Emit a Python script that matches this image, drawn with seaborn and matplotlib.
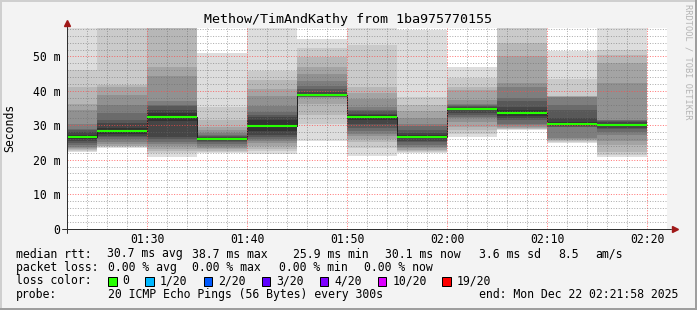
import matplotlib
matplotlib.use("Agg")
import numpy as np
import matplotlib.pyplot as plt
import seaborn as sns
from matplotlib.ticker import MultipleLocator, FixedLocator
from matplotlib.patches import Rectangle
from matplotlib.lines import Line2D

# ---------------- data ----------------
title = "Methow/TimAndKathy from 1ba975770155"
y_label = "Seconds"
watermark = "RRDTOOL / TOBI OETIKER"

interval_end = ["01:25", "01:30", "01:35", "01:40", "01:45", "01:50",
                "01:55", "02:00", "02:05", "02:10", "02:15", "02:20"]
step_minutes = 5
view_start, view_end = "01:22", "02:22"

median_ms = [26.6, 28.3, 32.4, 25.9, 29.9, 38.7, 32.3, 26.7, 34.8, 33.5, 30.4, 30.1]

# 20 sorted ping times (ms) per 5-minute step
pings_0125 = [22.1, 22.5, 22.8, 23.0, 23.3, 23.7, 24.3, 24.8, 25.3, 26.0,
              27.2, 28.0, 28.5, 29.0, 30.3, 34.4, 36.2, 41.0, 46.0, 62.0]
pings_0130 = [23.5, 23.7, 23.9, 24.1, 24.5, 25.2, 26.0, 26.5, 27.0, 27.5,
              29.1, 30.6, 31.5, 33.5, 35.9, 38.8, 41.0, 41.7, 62.0, 65.0]
pings_0135 = [20.7, 21.8, 22.5, 23.0, 24.0, 24.5, 25.0, 26.0, 26.5, 31.2,
              33.6, 34.4, 35.5, 36.0, 36.9, 44.3, 47.0, 62.0, 66.0, 70.0]
pings_0140 = [21.9, 22.3, 22.6, 23.0, 23.5, 24.0, 24.5, 25.0, 25.4, 25.7,
              26.1, 26.5, 26.9, 27.3, 27.8, 28.5, 29.5, 31.5, 35.2, 51.1]
pings_0145 = [21.7, 22.4, 23.0, 23.9, 24.7, 25.5, 26.0, 26.5, 27.3, 28.3,
              31.5, 32.5, 33.0, 33.8, 35.5, 38.6, 40.5, 43.1, 45.9, 62.0]
pings_0150 = [25.5, 30.5, 33.0, 36.2, 38.0, 38.1, 38.2, 38.3, 38.4, 38.5,
              38.9, 39.6, 40.4, 41.5, 43.0, 45.0, 47.0, 49.7, 52.4, 55.0]
pings_0155 = [21.2, 23.5, 25.0, 26.0, 27.0, 27.5, 28.4, 29.2, 30.5, 31.6,
              33.0, 33.4, 34.0, 34.5, 35.2, 37.5, 39.5, 41.0, 53.4, 62.0]
pings_0200 = [21.9, 22.3, 22.6, 22.9, 23.3, 23.8, 24.4, 25.0, 25.5, 26.2,
              27.2, 27.8, 28.5, 29.8, 30.5, 32.0, 34.0, 36.0, 38.3, 57.8]
pings_0205 = [26.7, 27.5, 28.5, 29.6, 31.0, 32.0, 32.5, 33.0, 33.6, 34.5,
              35.1, 35.3, 35.5, 35.8, 36.3, 37.4, 40.3, 41.0, 43.7, 46.8]
pings_0210 = [28.5, 28.8, 29.0, 29.2, 29.5, 30.0, 30.5, 31.5, 32.0, 32.7,
              34.3, 35.2, 37.0, 38.0, 41.0, 42.4, 50.2, 54.0, 60.0, 65.0]
pings_0215 = [24.9, 25.2, 25.5, 25.8, 26.0, 26.2, 29.4, 29.6, 29.8, 30.0,
              30.8, 32.0, 34.4, 36.0, 38.2, 38.3, 38.4, 38.5, 43.3, 51.6]
pings_0220 = [20.9, 21.4, 22.3, 24.3, 25.5, 27.2, 28.0, 28.9, 29.3, 29.7,
              30.5, 30.9, 31.2, 31.4, 31.6, 42.2, 48.0, 50.4, 51.9, 62.0]

xtick_labels = ["01:30", "01:40", "01:50", "02:00", "02:10", "02:20"]
ytick_values = [0, 10, 20, 30, 40, 50]
ytick_labels = ["0", "10 m", "20 m", "30 m", "40 m", "50 m"]
y_top = 58.4

median_stats = ["30.7 ms avg", "38.7 ms max", "25.9 ms min", "30.1 ms now",
                "3.6 ms sd", "8.5", "am/s"]
loss_stats = ["0.00 % avg", "0.00 % max", "0.00 % min", "0.00 % now"]
loss_labels = ["0", "1/20", "2/20", "3/20", "4/20", "10/20", "19/20"]
loss_colors = ["#26ff00", "#00b8ff", "#0059ff", "#5e00ff", "#7e00ff", "#dd00ff", "#ff0000"]
probe_text = "20 ICMP Echo Pings (56 Bytes) every 300s"
end_text = "end: Mon Dec 22 02:21:58 2025"

# ---------------- helpers ----------------
def to_min(s):
    h, m = s.split(":")
    return int(h) * 60 + int(m)

all_pings = [pings_0125, pings_0130, pings_0135, pings_0140, pings_0145, pings_0150,
             pings_0155, pings_0200, pings_0205, pings_0210, pings_0215, pings_0220]

ends = np.array([to_min(e) for e in interval_end], dtype=float)
starts = ends - step_minutes

W, H = 697, 310
def fx(px):
    return px / W
def fy(py):
    return 1 - py / H

sns.set_style("white")
plt.rcParams["font.family"] = ["DejaVu Sans Mono", "DejaVu Sans"]
FS = 8.3
TXT = "#000000"

fig = plt.figure(figsize=(W / 100, H / 100), dpi=100)
fig.patch.set_facecolor("#f3f3f3")

ax = fig.add_axes([fx(67), fy(228.5), 600 / W, 201 / H])
ax.set_facecolor("white")

# smoke (SmokePing style: pairs of pings, darker towards the median)
n = 20
half = n // 2
P = np.array(all_pings)
for k in range(1, half + 1):
    g = int(190 / half * (half - k)) + 50
    col = "#%02x%02x%02x" % (g, g, g)
    lo = P[:, k - 1]
    hi = P[:, n - k]
    ax.bar(starts, hi - lo, bottom=lo, width=step_minutes, align="edge",
           color=col, linewidth=0, antialiased=False, zorder=1)

# median step line (dark) + green loss-coloured median
edges = np.concatenate([[starts[0]], ends])
sns.lineplot(x=edges, y=list(median_ms) + [median_ms[-1]], drawstyle="steps-post",
             color="#202020", linewidth=0.72, ax=ax, estimator=None, sort=False, zorder=2)
ax.hlines(median_ms, starts, ends, colors=loss_colors[0], linewidth=1.5, zorder=3)

ax.set_xlim(to_min(view_start), to_min(view_end))
ax.set_ylim(0, y_top)

# grid
ax.xaxis.set_major_locator(FixedLocator([to_min(t) for t in xtick_labels]))
ax.set_xticklabels(xtick_labels)
ax.xaxis.set_minor_locator(MultipleLocator(2))
ax.set_yticks(ytick_values)
ax.set_yticklabels(ytick_labels)
ax.yaxis.set_minor_locator(MultipleLocator(2))
ax.set_axisbelow(False)
ax.grid(which="minor", color="#6a6a6a", alpha=0.55, linestyle=(0, (1, 1.6)),
        linewidth=0.72)
ax.grid(which="major", color="#ff4a4a", alpha=0.75, linestyle=(0, (1, 1.6)),
        linewidth=0.72)

for sp in ax.spines.values():
    sp.set_visible(False)

ax.tick_params(axis="both", which="major", length=2.2, width=0.72, color="#303030",
               labelsize=FS, labelcolor=TXT, direction="out")
ax.tick_params(axis="both", which="minor", length=1.4, width=0.72, color="#303030",
               direction="out")
ax.tick_params(axis="y", which="major", pad=2.5)
ax.tick_params(axis="x", which="major", pad=1.0)
ax.set_xlabel("")
ax.set_ylabel("")

# axis lines with arrows
ax.plot([-5 / 600, 604 / 600], [0, 0], transform=ax.transAxes, clip_on=False,
        color="#303030", lw=0.72, zorder=5)
ax.plot([0, 0], [-4.5 / 201, 203.5 / 201], transform=ax.transAxes, clip_on=False,
        color="#303030", lw=0.72, zorder=5)
ax.plot([607.5 / 600], [0], transform=ax.transAxes, clip_on=False, marker=">",
        ms=4.2, color="#a01818", mec="#a01818", zorder=6)
ax.plot([0], [205.5 / 201], transform=ax.transAxes, clip_on=False, marker="^",
        ms=4.2, color="#a01818", mec="#a01818", zorder=6)

# titles
fig.text(fx(347.5), fy(19), title, ha="center", va="center", fontsize=9.6, color=TXT)
fig.text(fx(10), fy(127.5), y_label, rotation=90, ha="center", va="center",
         fontsize=FS, color=TXT)
fig.text(fx(688), fy(61.5), watermark, rotation=270, ha="center", va="center",
         fontsize=6.2, color="#b4b4b4")

# legend block
def t(px, py, s):
    fig.text(fx(px), fy(py), s, ha="left", va="center", fontsize=FS, color=TXT)

y1, y2, y3, y4 = 254, 267.5, 281, 294.5
t(16, y1, "median rtt:")
for px, s in zip([106.7, 192.4, 293.3, 385.3, 479.1, 558.7, 595.6], median_stats):
    t(px, y1, s)
t(16, y2, "packet loss:")
for px, s in zip([107.6, 192.4, 279.1, 364.4], loss_stats):
    t(px, y2, s)
t(16, y3, "loss color:")
box_x = [108, 145.3, 203.6, 261.8, 319.6, 377.8, 442.2]
for bx, lab, col in zip(box_x, loss_labels, loss_colors):
    fig.add_artist(Rectangle((fx(bx), fy(y3 + 4.5)), 8.5 / W, 9 / H,
                             transform=fig.transFigure, facecolor=col,
                             edgecolor="black", linewidth=0.72))
    t(bx + 14.5, y3, lab)
t(16, y4, "probe:")
t(107.6, y4, probe_text)
t(478.7, y4, end_text)

# outer frame
fig.add_artist(Line2D([0, 1], [fy(0.8)] * 2, transform=fig.transFigure, color="#cfcfcf", lw=1.44))
fig.add_artist(Line2D([fx(0.8)] * 2, [0, 1], transform=fig.transFigure, color="#cfcfcf", lw=1.44))
fig.add_artist(Line2D([0, 1], [fy(H - 0.8)] * 2, transform=fig.transFigure, color="#9e9e9e", lw=1.44))
fig.add_artist(Line2D([fx(W - 0.8)] * 2, [0, 1], transform=fig.transFigure, color="#9e9e9e", lw=1.44))

fig.savefig("out.png", dpi=100, facecolor=fig.get_facecolor())
